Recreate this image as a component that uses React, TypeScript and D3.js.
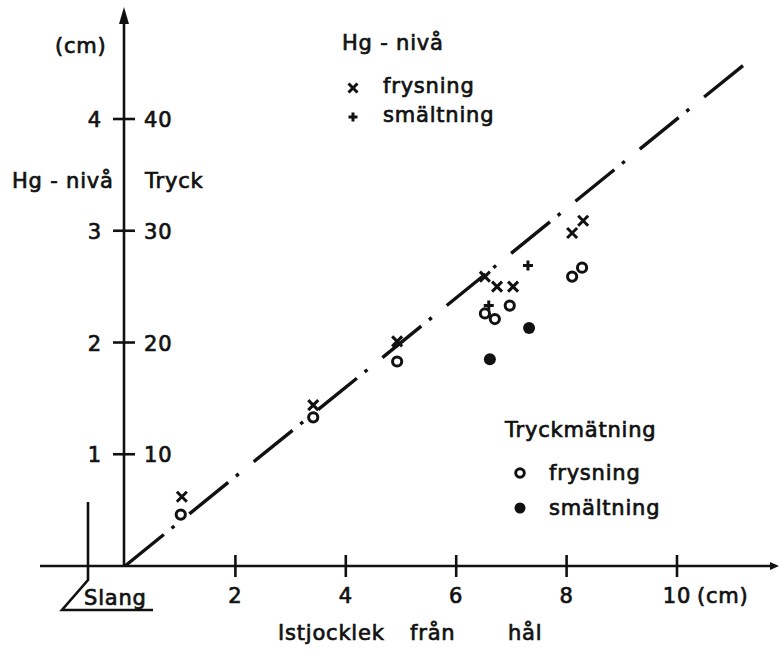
import React from "react";
import * as d3 from "d3";

// ---- data ----
const xTicks = [2, 4, 6, 8, 10];
const hgTicks = [1, 2, 3, 4];
const tryckTicks = [10, 20, 30, 40];

// Hg-nivå, frysning (x)
const hgFrysX = [1.03, 3.41, 4.93, 6.52, 6.74, 7.03, 8.1, 8.3];
const hgFrysY = [0.62, 1.44, 2.01, 2.59, 2.5, 2.5, 2.98, 3.09];
// Hg-nivå, smältning (+)
const hgSmaltX = [6.59, 7.3];
const hgSmaltY = [2.33, 2.69];
// Tryckmätning, frysning (o)
const tryckFrysX = [1.01, 3.41, 4.93, 6.52, 6.7, 6.97, 8.1, 8.28];
const tryckFrysY = [4.6, 13.3, 18.3, 22.6, 22.1, 23.3, 25.9, 26.7];
// Tryckmätning, smältning (filled)
const tryckSmaltX = [6.61, 7.32];
const tryckSmaltY = [18.5, 21.3];
// fitted line y = 0.4 x
const lineX = [0, 11.23];
const lineSlope = 0.4;

const W = 782;
const H = 653;
const FONT = "'DejaVu Sans', sans-serif";

export default function App() {
  const x = d3.scaleLinear().domain([0, 10]).range([125, 677]);
  const y = d3.scaleLinear().domain([0, 4]).range([566, 119]);
  const y2 = d3.scaleLinear().domain([0, 40]).range([566, 119]);

  const linePath = d3
    .line<number>()
    .x((d) => x(d))
    .y((d) => y(d * lineSlope))(lineX);

  const ink = "#111";
  const textStyle: React.CSSProperties = {
    fontFamily: FONT,
    fontSize: 21,
    fontWeight: "normal",
    fill: ink,
    stroke: ink,
    strokeWidth: 0.7,
    letterSpacing: 0.8,
  };

  const cross = (cx: number, cy: number, s: number) =>
    `M${cx - s},${cy - s}L${cx + s},${cy + s}M${cx - s},${cy + s}L${cx + s},${cy - s}`;
  const plus = (cx: number, cy: number, s: number) =>
    `M${cx - s},${cy}L${cx + s},${cy}M${cx},${cy - s}L${cx},${cy + s}`;

  const x0 = x(0);
  const yBase = y(0);

  return (
    <svg
      width={W}
      height={H}
      style={{ position: "absolute", left: 0, top: 0, background: "#fff" }}
    >
      <rect x={0} y={0} width={W} height={H} fill="#fff" />

      {/* x axis */}
      <line x1={40} y1={yBase} x2={772} y2={yBase} stroke={ink} strokeWidth={2.6} />
      <path d={`M779,${yBase}L770,${yBase - 4}L770,${yBase + 4}Z`} fill={ink} />
      {xTicks.map((t) => (
        <g key={"xt" + t}>
          <line x1={x(t)} y1={yBase - 11} x2={x(t)} y2={yBase + 11} stroke={ink} strokeWidth={2.6} />
          <text x={x(t)} y={603} textAnchor="middle" style={textStyle}>
            {t}
          </text>
        </g>
      ))}
      <text x={697} y={603} style={textStyle}>
        (cm)
      </text>
      <text x={278} y={640} style={textStyle}>
        Istjocklek
      </text>
      <text x={410} y={640} style={textStyle}>
        från
      </text>
      <text x={508} y={640} style={textStyle}>
        hål
      </text>

      {/* y axis */}
      <line x1={x0 - 1} y1={yBase} x2={x0 - 1} y2={20} stroke={ink} strokeWidth={2.6} />
      <path d={`M${x0 - 1},7L${x0 - 6},24L${x0 + 4},24Z`} fill={ink} />
      {hgTicks.map((t) => (
        <g key={"yt" + t}>
          <line x1={x0 - 12} y1={y(t)} x2={x0 + 10} y2={y(t)} stroke={ink} strokeWidth={2.6} />
          <text x={102} y={y(t) + 8} textAnchor="end" style={textStyle}>
            {t}
          </text>
        </g>
      ))}
      {tryckTicks.map((t) => (
        <text key={"y2t" + t} x={144} y={y2(t) + 8} style={textStyle}>
          {t}
        </text>
      ))}
      <text x={55} y={53} style={textStyle}>
        (cm)
      </text>
      <text x={12} y={188} style={textStyle}>
        Hg - nivå
      </text>
      <text x={145} y={188} style={textStyle}>
        Tryck
      </text>

      {/* Slang */}
      <path
        d={`M88,502L88,580L62,610L153,610`}
        fill="none"
        stroke={ink}
        strokeWidth={2.6}
      />
      <text x={84} y={605} style={textStyle}>
        Slang
      </text>

      {/* dash-dot line */}
      <path
        d={linePath || ""}
        fill="none"
        stroke={ink}
        strokeWidth={3.4}
        strokeDasharray="50 10 3.5 19.3"
      />

      {/* Hg-nivå frysning: x */}
      {hgFrysX.map((v, i) => (
        <path
          key={"hf" + i}
          d={cross(x(v), y(hgFrysY[i]), 5)}
          stroke={ink}
          strokeWidth={3}
          fill="none"
        />
      ))}
      {/* Hg-nivå smältning: + */}
      {hgSmaltX.map((v, i) => (
        <path
          key={"hs" + i}
          d={plus(x(v), y(hgSmaltY[i]), 5)}
          stroke={ink}
          strokeWidth={3}
          fill="none"
        />
      ))}
      {/* Tryckmätning frysning: o */}
      {tryckFrysX.map((v, i) => (
        <circle
          key={"tf" + i}
          cx={x(v)}
          cy={y2(tryckFrysY[i])}
          r={4.6}
          stroke={ink}
          strokeWidth={3}
          fill="#fff"
        />
      ))}
      {/* Tryckmätning smältning: filled */}
      {tryckSmaltX.map((v, i) => (
        <circle key={"ts" + i} cx={x(v)} cy={y2(tryckSmaltY[i])} r={6} fill={ink} />
      ))}

      {/* legend top */}
      <text x={342} y={50} style={textStyle}>
        Hg - nivå
      </text>
      <path d={cross(353, 88, 4.5)} stroke={ink} strokeWidth={3} fill="none" />
      <text x={383} y={93} style={textStyle}>
        frysning
      </text>
      <path d={plus(353, 117, 4.5)} stroke={ink} strokeWidth={3} fill="none" />
      <text x={383} y={122} style={textStyle}>
        smältning
      </text>

      {/* legend bottom */}
      <text x={505} y={437} style={textStyle}>
        Tryckmätning
      </text>
      <circle cx={520} cy={473} r={4.3} stroke={ink} strokeWidth={3} fill="#fff" />
      <text x={549} y={480} style={textStyle}>
        frysning
      </text>
      <circle cx={520} cy={508} r={5.5} fill={ink} />
      <text x={549} y={515} style={textStyle}>
        smältning
      </text>
    </svg>
  );
}
